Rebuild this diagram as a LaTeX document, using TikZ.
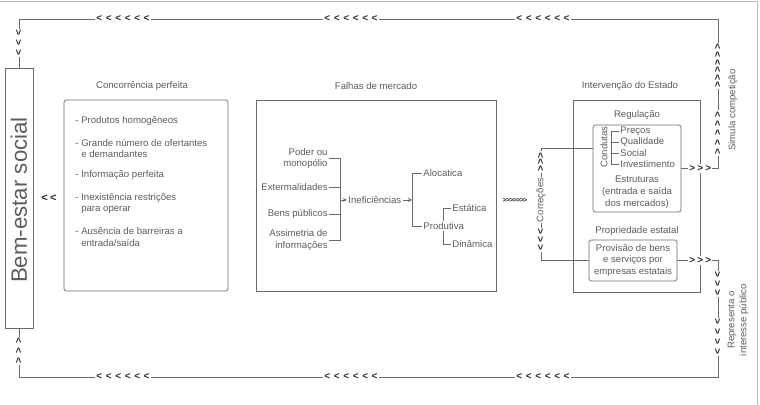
\documentclass[tikz,border=0pt]{standalone}
\usepackage{fontspec}
\setmainfont{Liberation Sans}
\usetikzlibrary{arrows,calc,positioning}
\definecolor{lngray}{gray}{0.42}
\definecolor{txgray}{gray}{0.36}
\definecolor{chgray}{gray}{0.18}
\tikzstyle{ln}=[draw=lngray,line width=0.6pt]
\tikzstyle{tx}=[text=txgray,font=\fontsize{8.2}{10.2}\selectfont,inner sep=1pt]
\tikzstyle{chv}=[text=chgray,font=\fontsize{8.5}{8.5}\selectfont\bfseries,inner sep=1pt,fill=white]
\tikzstyle{sqbox}=[draw=lngray,line width=0.6pt,inner sep=0pt]
\tikzstyle{rbox}=[sqbox,rounded corners=2pt]
\newcommand{\chevs}[3][3.1pt]{\foreach \k in {1,...,#2}{\ifnum\k>1 \hspace{#1}\fi#3}}

\begin{document}
\begin{tikzpicture}[x=0.03cm,y=-0.03cm,>=stealth]
\useasboundingbox (0,0) rectangle (760,405);
% frame
\draw[gray!55,line width=0.6pt] (0,1) -- (757,1) -- (757,405);

% bem-estar social
\node[sqbox,minimum width=0.84cm,minimum height=7.8cm] (bem) at (19,198) {};
\node[text=txgray,font=\fontsize{19}{19}\selectfont,rotate=90] (bemtx) at (19,200) {Bem-estar social};

% concorrencia perfeita
\node[tx] (cptit) at (142,86) {Concorrência perfeita};
\node[rbox,minimum width=4.92cm,minimum height=5.73cm] (cp) at (146,195.5) {};
\node[tx,anchor=west] (cp1) at (74,121) {- Produtos homogêneos};
\node[tx,anchor=west,align=left] (cp2) at (74,148.5) {- Grande número de ofertantes\\\hphantom{- }e demandantes};
\node[tx,anchor=west] (cp3) at (74,175) {- Informação perfeita};
\node[tx,anchor=west,align=left] (cp4) at (74,203.5) {- Inexistência restrições\\\hphantom{- }para operar};
\node[tx,anchor=west,align=left] (cp5) at (74,237) {- Ausência de barreiras a\\\hphantom{- }entrada/saída};

% falhas de mercado
\node[tx] (fmtit) at (376,86) {Falhas de mercado};
\node[sqbox,minimum width=7.2cm,minimum height=5.73cm] (fm) at (376,195.5) {};
\node[tx,anchor=east,align=right] (poder) at (329,158.5) {Poder ou\\monopólio};
\node[tx,anchor=east] (ext) at (329,187) {Extermalidades};
\node[tx,anchor=east] (bens) at (329,214) {Bens públicos};
\node[tx,anchor=east,align=right] (assim) at (329,240) {Assimetria de\\informações};
\draw[ln] (poder.east) -- ++(11,0) coordinate (b1) |- (assim.east);
\draw[ln] (ext.east) -- (ext.east -| b1);
\draw[ln] (bens.east) -- (bens.east -| b1);
\node[tx,anchor=west] (inef) at (347,200) {Ineficiências};
\draw[ln,->] (inef.west -| b1) -- (inef.west);
\node[tx,anchor=west] (aloc) at (422,173) {Alocatica};
\node[tx,anchor=west] (prod) at (422,226) {Produtiva};
\draw[ln] (aloc.west) -- ++(-10,0) coordinate (b2) |- (prod.west);
\draw[ln,->] (inef.east) -- (inef.east -| b2);
\node[tx,anchor=west] (esta) at (451,208) {Estática};
\node[tx,anchor=west] (dina) at (451,244) {Dinâmica};
\draw[ln] (esta.west) -- ++(-8,0) coordinate (b3) -- (b3 |- prod.north);
\draw[ln] (dina.west) -- (dina.west -| b3) -- (b3 |- prod.south);

% intervencao do estado
\node[tx] (ietit) at (630,86) {Intervenção do Estado};
\node[sqbox,minimum width=3.81cm,minimum height=5.76cm] (ie) at (636.5,196) {};
\node[tx] (regtit) at (637,115) {Regulação};
\node[rbox,minimum width=2.64cm,minimum height=2.61cm] (reg) at (637,168.5) {};
\node[tx,rotate=90] (cond) at (604,147) {Condutas};
\node[tx,anchor=west] (prec) at (619,131) {Preços};
\node[tx,anchor=west] (qual) at (619,142) {Qualidade};
\node[tx,anchor=west] (soc) at (619,153) {Social};
\node[tx,anchor=west] (inv) at (619,164) {Investimento};
\draw[ln] (prec.west) -- ++(-8,0) coordinate (b4) |- (inv.west);
\draw[ln] (qual.west) -- (qual.west -| b4);
\draw[ln] (soc.west) -- (soc.west -| b4);
\node[tx,align=center] (estr) at (637,192) {Estruturas\\(entrada e saída\\dos mercados)};
\node[tx] (proptit) at (637,231) {Propriedade estatal};
\node[rbox,tx,minimum width=2.64cm,minimum height=1.23cm,align=center] (prov) at (633,260.5) {Provisão de bens\\e serviços por\\empresas estatais};

% correcoes
\coordinate (c1) at (541,148);
\draw[ln] (reg.west |- c1) -- (c1) -- (c1 |- prov.west) -- (prov.west);

% loop
\coordinate (tr) at (718,19);
\coordinate (br) at (718,377);
\draw[ln] (reg.east) -- (reg.east -| tr) -- (tr) -- (bem.north |- tr) -- (bem.north);
\draw[ln] (prov.east) -- (prov.east -| br) -- (br) -- (bem.south |- br) -- (bem.south);

% chevrons
\node[chv] (t1) at (123,19) {\chevs{6}{<}};
\node[chv] (t2) at (351,19) {\chevs{6}{<}};
\node[chv] (t3) at (543,19) {\chevs{6}{<}};
\node[chv] (d1) at (123,377) {\chevs{6}{<}};
\node[chv] (d2) at (351,377) {\chevs{6}{<}};
\node[chv] (d3) at (543,377) {\chevs{6}{<}};
\node[chv,rotate=90] (lt) at (bem.north |- 0,43) {\chevs[3.6pt]{3}{<}};
\node[chv,rotate=90] (lb) at (bem.south |- 0,351) {\chevs[3.6pt]{3}{>}};
\node[chv,font=\fontsize{9.5}{9.5}\selectfont\bfseries] (ll) at (49,198) {\chevs[2pt]{2}{<}};
\node[chv,font=\fontsize{6}{6}\selectfont\bfseries] (mid) at (515,200) {\chevs[-0.6pt]{7}{>}};
\node[chv,rotate=90] (cu) at (541,162) {\chevs[0.6pt]{3}{>}};
\node[tx,rotate=90,fill=white] (corr) at (541,200) {Correções};
\node[chv,rotate=90] (cd) at (541,240) {\chevs[1.9pt]{3}{<}};
\node[chv] (ra) at (ie.east |- reg.east) {\chevs[1.9pt]{3}{>}};
\node[chv] (rb) at (ie.east |- prov.east) {\chevs[1.9pt]{3}{>}};
\node[chv,rotate=90] (ru1) at (718,66) {\chevs[1.5pt]{6}{>}};
\node[chv,rotate=90] (ru2) at (718,133) {\chevs[2.9pt]{5}{>}};
\node[chv,rotate=90] (rd1) at (718,284) {\chevs[2.7pt]{3}{<}};
\node[chv,rotate=90] (rd2) at (718,337) {\chevs[3.6pt]{4}{<}};

% side labels
\node[tx,rotate=90] (simc) at (733,110) {Simula competição};
\node[tx,rotate=90,align=center] (repr) at (738,320) {Representa o\\interesse público};
\end{tikzpicture}
\end{document}
